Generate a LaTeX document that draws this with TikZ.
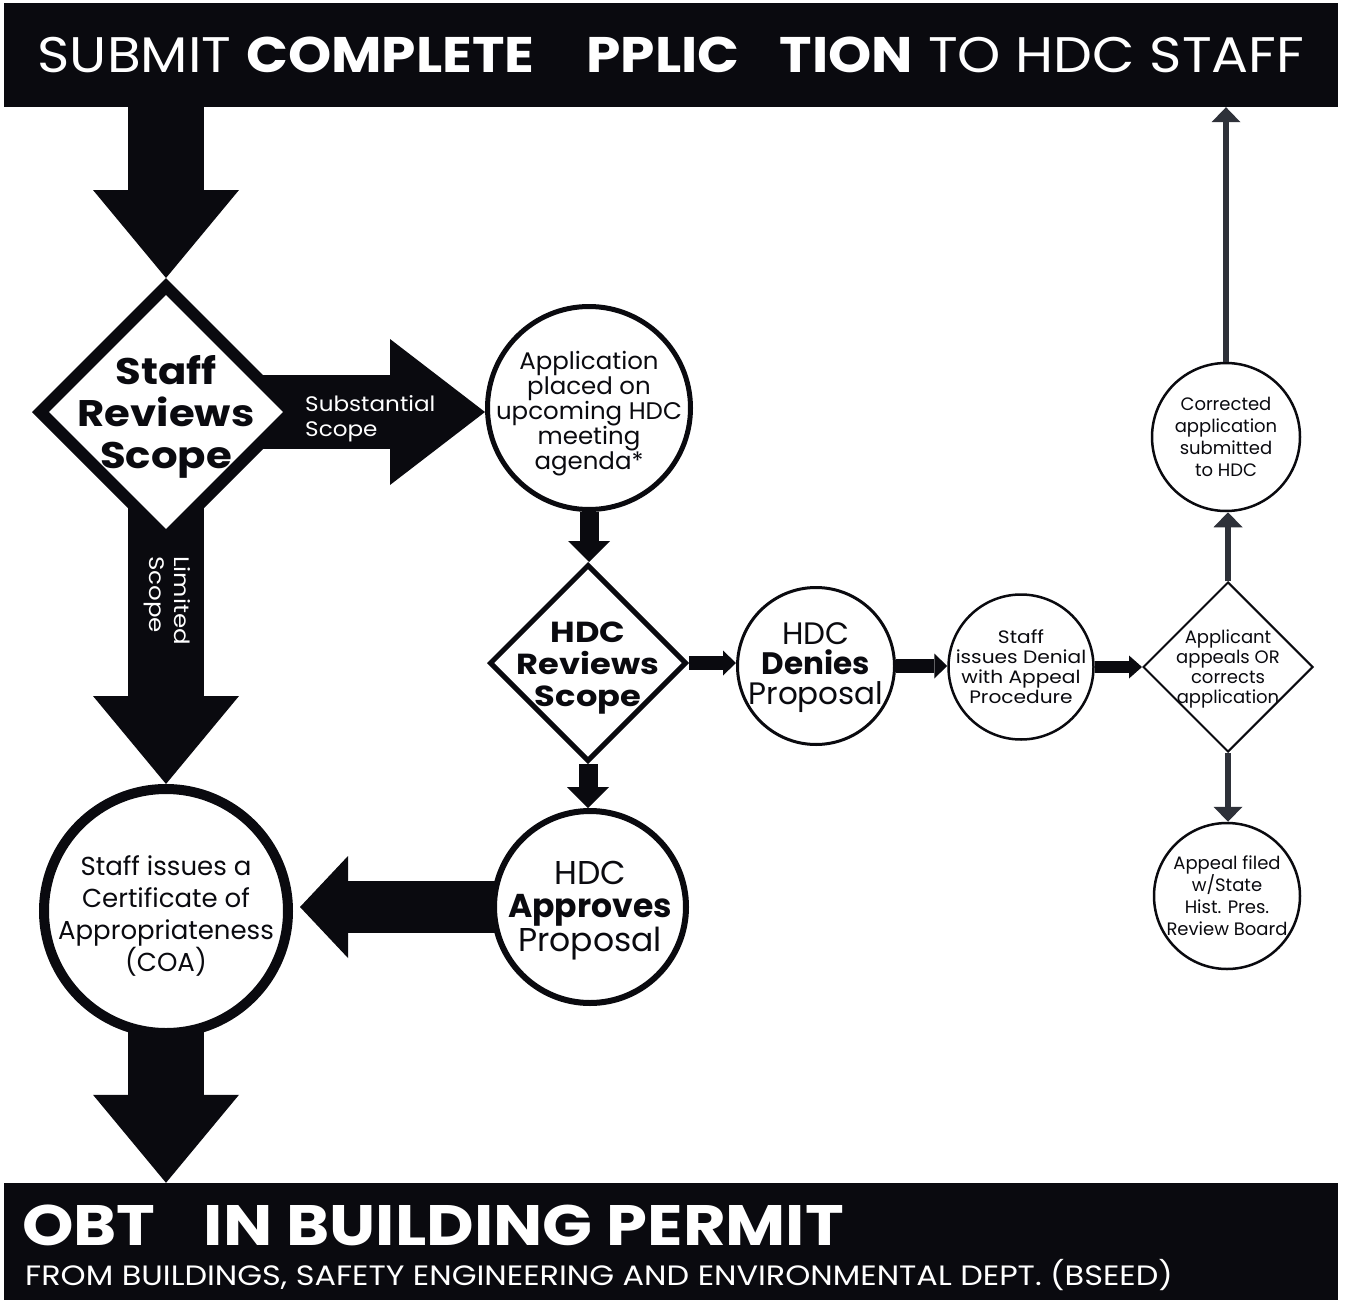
\documentclass[tikz,border=0pt]{standalone}
\usepackage{fontspec}
\setmainfont{Poppins}
\usepackage{tikz}
\usetikzlibrary{arrows.meta,positioning,shapes.geometric}
\definecolor{inkblack}{HTML}{0A0A0F}
\definecolor{arrowgray}{HTML}{2E3139}
\pgfdeclarelayer{background}
\pgfsetlayers{background,main}

\begin{document}
\begin{tikzpicture}[
    x=1pt, y=-1pt,
    every node/.style={inner sep=0pt},
    bar/.style={fill=inkblack, minimum width=1334pt},
    circ/.style={circle, draw=inkblack, fill=white, minimum size=#1},
    diam/.style={diamond, draw=inkblack, fill=white, aspect=1, minimum width=#1, minimum height=#1},
    txt/.style n args={3}{font=\fontsize{#1}{#2}\selectfont\addfontfeature{FakeStretch=#3}, align=center, text=inkblack},
    wtxt/.style n args={3}{font=\fontsize{#1}{#2}\selectfont\addfontfeature{FakeStretch=#3}, text=white},
    bigarrow/.style={draw=inkblack, line width=76pt, -{Triangle[width=146pt, length=88pt, line width=0pt]}},
    sidearrow/.style={draw=inkblack, line width=74pt, -{Triangle[width=146pt, length=95pt, line width=0pt]}},
    midarrow/.style={draw=inkblack, line width=52pt, -{Triangle[width=102pt, length=48pt, line width=0pt]}},
    smallarrow/.style={draw=inkblack, line width=19pt, -{Triangle[width=42pt, length=21pt, line width=0pt]}},
    tinyarrow/.style={draw=inkblack, line width=14pt, -{Triangle[width=25pt, length=13pt, line width=0pt]}},
    grayarrow/.style={draw=arrowgray, line width=6pt, -{Triangle[width=29pt, length=15pt, line width=0pt]}}
]
    \useasboundingbox (0,0) rectangle (1345,1306);

    % header and footer bars
    \node[bar, minimum height=104pt, wtxt={50}{56}{1.1}] (topbar) at (671,55)
        {SUBMIT \textbf{COMPLETE \hphantom{A}PPLIC\hphantom{A}TION} TO HDC STAFF};
    \node[bar, minimum height=117pt] (bottombar) at (671,1241.5) {};
    \node[wtxt={57}{60}{1.15}, anchor=base west] (obtain) at (22,1245) {\textbf{OBT\hphantom{A}IN BUILDING PERMIT}};
    \node[wtxt={28}{30}{1.14}, anchor=base west] (bseed) at (25,1285)
        {FROM BUILDINGS, SAFETY ENGINEERING AND ENVIRONMENTAL DEPT. (BSEED)};

    % decisions and steps
    \node[diam=256pt, line width=12pt, label={[txt={37}{42}{1.13}, yshift=-5pt]center:\textbf{Staff}\\\textbf{Reviews}\\\textbf{Scope}}] (staff) at (166,412) {};
    \node[circ=203pt, line width=5pt, label={[txt={24}{25}{1.02}, yshift=-6pt]center:Application\\placed on\\upcoming HDC\\meeting\\agenda*}] (apply) at (589,408) {};
    \node[diam=197pt, line width=5pt, label={[txt={29}{32}{1.16}, yshift=-5pt]center:\textbf{HDC}\\\textbf{Reviews}\\\textbf{Scope}}] (hdc) at (588,663) {};
    \node[circ=192pt, line width=6pt, label={[txt={33}{33}{1}, yshift=-4pt]center:HDC\\\textbf{Approves}\\Proposal}] (approve) at (590,907) {};
    \node[circ=244pt, line width=10pt, label={[txt={26}{32}{1}, yshift=-5pt]center:Staff issues a\\Certificate of\\Appropriateness\\(COA)}] (coa) at (166,911) {};
    \node[circ=157pt, line width=3pt, label={[txt={31}{30}{1}, yshift=-2pt]center:HDC\\\textbf{Denies}\\Proposal}] (denies) at (816,666) {};
    \node[circ=145pt, line width=2.5pt, label={[txt={18}{20}{1.12}]center:Staff\\issues Denial\\with Appeal\\Procedure}] (denial) at (1021,667) {};
    \node[diam=170pt, line width=2pt, label={[txt={18}{20}{1}, yshift=-2pt]center:Applicant\\appeals OR\\corrects\\application}] (applicant) at (1228,667) {};
    \node[circ=148pt, line width=2.5pt, label={[txt={18}{22}{1}]center:Corrected\\application\\submitted\\to HDC}] (corrected) at (1226,437) {};
    \node[circ=146pt, line width=2.5pt, label={[txt={18}{22}{1}]center:Appeal filed\\w/State\\Hist. Pres.\\Review Board}] (appeal) at (1227,896) {};

    % branch labels
    \node[wtxt={21}{25}{1.1}, align=left, anchor=west] (subst) at ([xshift=5pt, yshift=-7pt]staff.east) {Substantial\\Scope};
    \node[wtxt={21}{25}{1.17}, align=left, anchor=west, rotate=-90] (limited) at ([xshift=1pt, yshift=-10pt]staff.south) {Limited\\Scope};

    % block arrows
    \begin{pgfonlayer}{background}
        \draw[bigarrow] (topbar.south -| staff.north) -- (staff.north);
        \draw[sidearrow] (staff.center) -- (staff.center -| apply.west);
        \draw[bigarrow] (staff.center) -- (coa.north);
        \draw[bigarrow] (coa.center) -- (coa.center |- bottombar.north);
        \draw[midarrow, shorten >=7pt] (approve.center) -- (approve.center -| coa.east);
        \draw[smallarrow] (apply.south) -- (apply.south |- hdc.north);
        \draw[smallarrow] (hdc.south) -- (hdc.south |- approve.north);
        \draw[tinyarrow] (hdc.east) -- (hdc.east -| denies.west);
        \draw[tinyarrow] (denies.east) -- (denies.east -| denial.west);
        \draw[tinyarrow, line width=12pt, -{Triangle[width=23pt, length=13pt, line width=0pt]}] (denial.east) -- (applicant.west);
    \end{pgfonlayer}

    % return paths
    \draw[grayarrow] (applicant.north) -- (applicant.north |- corrected.south);
    \draw[grayarrow] (corrected.north) -- (corrected.north |- topbar.south);
    \draw[grayarrow] (applicant.south) -- (applicant.south |- appeal.north);
\end{tikzpicture}
\end{document}
